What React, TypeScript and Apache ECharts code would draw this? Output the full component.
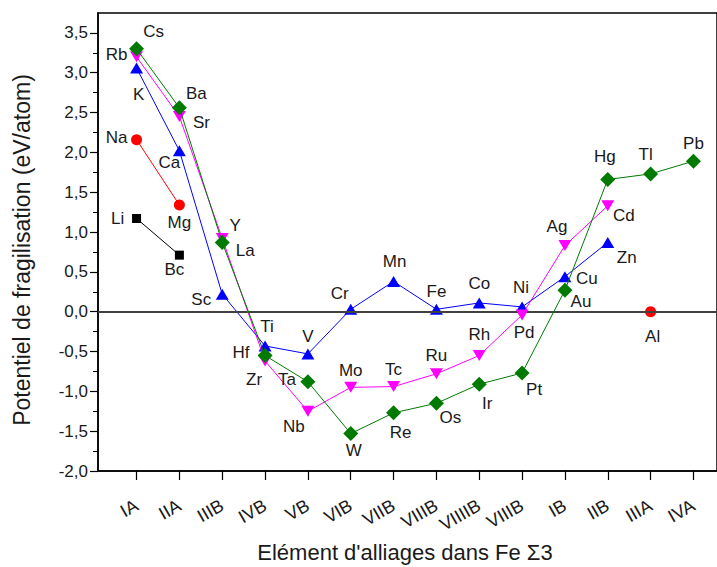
import { useEffect, useRef } from 'react';
import * as echarts from 'echarts';

const categories = ['IA', 'IIA', 'IIIB', 'IVB', 'VB', 'VIB', 'VIIB', 'VIIIB', 'VIIIIB', 'VIIIB', 'IB', 'IIB', 'IIIA', 'IVA'];
const yTicks = [-2, -1.5, -1, -0.5, 0, 0.5, 1, 1.5, 2, 2.5, 3, 3.5];

const blackNames = ['Li', 'Bc', null, null, null, null, null, null, null, null, null, null, null, null];
const blackValues = [1.17, 0.71, null, null, null, null, null, null, null, null, null, null, null, null];

const redNames = ['Na', 'Mg', null, null, null, null, null, null, null, null, null, null, 'Al', null];
const redValues = [2.16, 1.34, null, null, null, null, null, null, null, null, null, null, 0.0, null];

const blueNames = ['K', 'Ca', 'Sc', 'Ti', 'V', 'Cr', 'Mn', 'Fe', 'Co', 'Ni', 'Cu', 'Zn', null, null];
const blueValues = [3.06, 2.02, 0.22, -0.43, -0.53, 0.03, 0.38, 0.03, 0.11, 0.06, 0.44, 0.87, null, null];

const magentaNames = ['Rb', 'Sr', 'Y', 'Zr', 'Nb', 'Mo', 'Tc', 'Ru', 'Rh', 'Pd', 'Ag', 'Cd', null, null];
const magentaValues = [3.2, 2.45, 0.92, -0.62, -1.25, -0.95, -0.94, -0.78, -0.55, -0.04, 0.83, 1.33, null, null];

const greenNames = ['Cs', 'Ba', 'La', 'Hf', 'Ta', 'W', 'Re', 'Os', 'Ir', 'Pt', 'Au', 'Hg', 'Tl', 'Pb'];
const greenValues = [3.3, 2.56, 0.87, -0.55, -0.88, -1.53, -1.27, -1.15, -0.91, -0.77, 0.27, 1.66, 1.73, 1.89];

// label placement (pixel offsets from marker centre)
const labelOffsets: Record<string, [number, number]> = {
  Cs: [17, -17], Rb: [-20, -2], K: [2, 27], Na: [-20, -2], Li: [-19, 0],
  Ba: [17, -14], Sr: [22, 6], Ca: [-10, 12], Mg: [0, 18], Bc: [-5, 14],
  Y: [13, -13], La: [23, 8], Sc: [-21, 5], Ti: [2, -19], Hf: [-24, -3],
  Zr: [-11, 18], V: [0, -17], Ta: [-21, -2], Nb: [-14, 15], Cr: [-11, -16],
  Mn: [1, -20], Mo: [0, -17], Tc: [0, -17], W: [3, 17], Re: [7, 20],
  Ru: [0, -18], Os: [14, 14], Fe: [0, -18], Co: [0, -19], Ni: [-1, -19],
  Rh: [0, -21], Pd: [2, 18], Ir: [8, 19], Pt: [12, 16], Ag: [-8, -19],
  Cu: [22, 2], Au: [16, 11], Zn: [19, 15], Cd: [16, 10], Hg: [-3, -23],
  Tl: [-5, -19], Pb: [0, -18], Al: [2, 25],
};

const FONT = '"Liberation Sans", Arial, sans-serif';
const TEXT = '#1a1a1a';

function buildData(names: (string | null)[], values: (number | null)[]) {
  return values.map((v, i) => {
    const nm = names[i];
    if (v === null || nm === null) return { value: [i, '-'] };
    return { value: [i, v], name: nm, label: { offset: labelOffsets[nm] || [0, 0] } };
  });
}

function makeSeries(names: (string | null)[], values: (number | null)[], color: string, symbol: string, size: number | number[], rotate: number, z: number, extra: any = {}) {
  return {
    type: 'line',
    data: buildData(names, values),
    symbol,
    symbolSize: size,
    symbolRotate: rotate,
    showAllSymbol: true,
    connectNulls: false,
    z,
    itemStyle: { color },
    lineStyle: { color, width: 1 },
    label: {
      show: true,
      position: 'inside',
      formatter: '{b}',
      fontSize: 17,
      fontFamily: FONT,
      color: TEXT,
      align: 'center',
      verticalAlign: 'middle',
    },
    ...extra,
  };
}

export default function App() {
  const ref = useRef<HTMLDivElement>(null);
  useEffect(() => {
    if (!ref.current) return;
    const chart = echarts.init(ref.current, undefined, { renderer: 'svg' });
    const idx = categories.map((_, i) => i);
    chart.setOption({
      animation: false,
      backgroundColor: '#ffffff',
      textStyle: { fontFamily: FONT },
      grid: { left: 98, top: 13, right: -4, bottom: 96, show: true, borderColor: '#000', borderWidth: 1.5, containLabel: false },
      xAxis: {
        type: 'value',
        min: -0.9,
        max: 13.55,
        splitLine: { show: false },
        axisLine: { show: true, onZero: false, lineStyle: { color: '#000', width: 1.5 } },
        axisTick: { show: true, customValues: idx, length: 9, lineStyle: { color: '#000', width: 1.2 } },
        axisLabel: {
          customValues: idx,
          formatter: (v: number) => categories[Math.round(v)] ?? '',
          rotate: 30,
          margin: 33,
          fontSize: 18,
          color: TEXT,
          fontFamily: FONT,
        },
      },
      yAxis: {
        type: 'value',
        min: -2,
        max: 3.75,
        interval: 0.5,
        splitLine: { show: false },
        axisLine: { show: true, onZero: false, lineStyle: { color: '#000', width: 1.5 } },
        axisTick: { show: true, customValues: yTicks, length: 8, lineStyle: { color: '#000', width: 1.2 } },
        minorTick: { show: true, splitNumber: 2, length: 5, lineStyle: { color: '#000', width: 1 } },
        axisLabel: {
          customValues: yTicks,
          formatter: (v: number) => v.toFixed(1).replace('.', ','),
          fontSize: 17,
          margin: 10,
          color: TEXT,
          fontFamily: FONT,
        },
      },
      graphic: [
        {
          type: 'text',
          x: 22,
          y: 250,
          rotation: Math.PI / 2,
          style: {
            text: 'Potentiel de fragilisation (eV/atom)',
            fontSize: 23,
            fontFamily: FONT,
            fill: TEXT,
            align: 'center',
            verticalAlign: 'middle',
          },
        },
        {
          type: 'text',
          x: 405,
          y: 552,
          style: {
            text: "Elément d'alliages dans Fe Σ3",
            fontSize: 22,
            fontFamily: FONT,
            fill: TEXT,
            align: 'center',
            verticalAlign: 'middle',
          },
        },
      ],
      series: [
        makeSeries(blackNames, blackValues, '#000000', 'rect', 9, 0, 2, {
          markLine: {
            silent: true,
            symbol: ['none', 'none'],
            label: { show: false },
            lineStyle: { color: '#404040', width: 2, type: 'solid' },
            data: [{ yAxis: 0 }],
          },
        }),
        makeSeries(redNames, redValues, '#ff0000', 'circle', 11, 0, 3),
        makeSeries(blueNames, blueValues, '#0000ff', 'triangle', [13, 11], 0, 4),
        makeSeries(magentaNames, magentaValues, '#ff00ff', 'triangle', [13, 11], 180, 5),
        makeSeries(greenNames, greenValues, '#007a00', 'diamond', 15, 0, 6),
      ],
    });
    return () => chart.dispose();
  }, []);
  return <div ref={ref} style={{ position: 'fixed', left: 0, top: 0, width: 717, height: 567 }} />;
}
